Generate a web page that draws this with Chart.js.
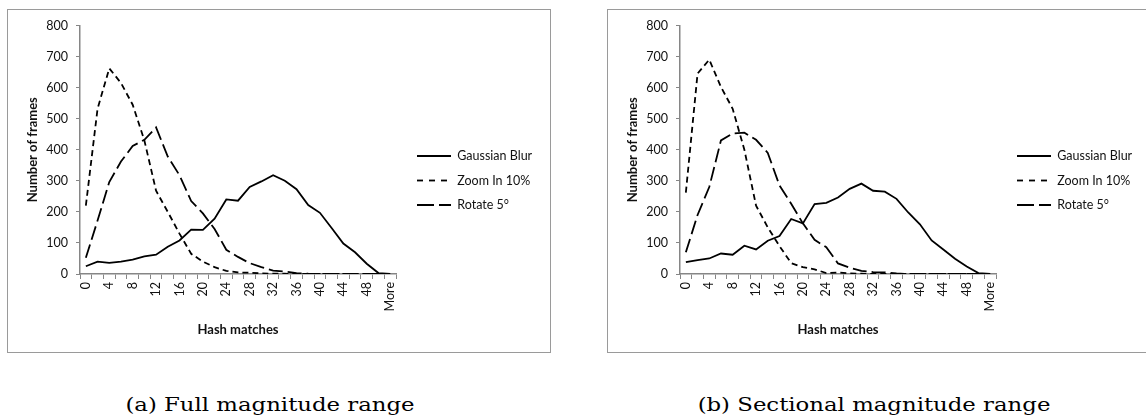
<!DOCTYPE html>
<html>
<head>
<meta charset="utf-8">
<script src="https://cdn.jsdelivr.net/npm/chart.js@4.4.1/dist/chart.umd.min.js"></script>
<style>
  html, body { margin: 0; padding: 0; background: #fff; overflow: hidden; }
  body { width: 1146px; height: 419px; position: relative; }
  .box { position: absolute; top: 9px; height: 342px; border: 1px solid #9a9a9a; background: #fff; }
  #boxA { left: 7px; width: 542px; }
  #boxB { left: 607px; width: 560px; }
  .box canvas { position: absolute; left: 0; top: 0; }
  .cap { position: absolute; top: 393px; font-family: "DejaVu Serif", "Liberation Serif", serif; font-size: 19px; color: #000; white-space: nowrap; transform: translateX(-50%) scaleX(1.2); }
</style>
</head>
<body>
<div class="box" id="boxA"><canvas id="chartA" width="542" height="342"></canvas></div>
<div class="box" id="boxB"><canvas id="chartB" width="542" height="342"></canvas></div>
<div class="cap" style="left:270px">(a) Full magnitude range</div>
<div class="cap" style="left:874px">(b) Sectional magnitude range</div>
<script>
const categories = ['0','2','4','6','8','10','12','14','16','18','20','22','24','26','28','30','32','34','36','38','40','42','44','46','48','50','More'];
const seriesNames = ['Gaussian Blur', 'Zoom In 10%', 'Rotate 5°'];

// (a) full magnitude range
const blurA   = [25, 40, 36, 40, 46, 57, 62, 88, 108, 143, 142, 178, 240, 236, 280, 298, 318, 300, 273, 222, 197, 148, 98, 70, 33, 3, 0];
const zoomA   = [220, 532, 662, 615, 545, 430, 268, 200, 130, 65, 40, 22, 10, 5, 4, 2, 1, 1, 0, 0, 0, 0, 0, 0, 0, 0, 0];
const rotateA = [52, 172, 296, 362, 412, 432, 472, 378, 318, 235, 195, 145, 78, 55, 35, 22, 11, 8, 3, 1, 0, 0, 0, 0, 0, 0, 0];

// (b) sectional magnitude range
const blurB   = [38, 45, 50, 66, 62, 91, 79, 107, 122, 177, 163, 225, 229, 246, 274, 291, 268, 265, 242, 198, 160, 108, 79, 49, 24, 3, 0];
const zoomB   = [262, 645, 690, 602, 532, 400, 220, 150, 90, 35, 22, 15, 3, 5, 2, 1, 0, 0, 0, 0, 0, 0, 0, 0, 0, 0, 0];
const rotateB = [70, 190, 280, 430, 452, 455, 432, 390, 285, 226, 163, 110, 86, 34, 20, 10, 6, 5, 2, 0, 0, 0, 0, 0, 0, 0, 0];

const dashes = [[], [6, 4], [14, 5]];
const legendDashes = [[], [6, 6], [17, 5]];
const axisColor = '#868686';
const textColor = '#111';
const fontFamily = 'Lato, "Open Sans", sans-serif';

// fixes legend width and nudges it so the keys sit where Excel put them
const legendNudge = {
    id: 'legendNudge',
    beforeLayout(chart, args, opts) {
        const lg = chart.legend;
        if (!lg || lg._nudged) return;
        const fit = lg.fit.bind(lg);
        lg.fit = function() { fit(); this.width = opts.width; };
        lg._nudged = true;
    },
    afterLayout(chart, args, opts) {
        const lg = chart.legend;
        lg.left += opts.dx; lg.right += opts.dx;
        lg.top += opts.dy; lg.bottom += opts.dy;
    }
};

function drawHistChart(canvasId, values) {
    let ctx = document.getElementById(canvasId);
    return new Chart(ctx, {
        type: 'line',
        data: {
            labels: categories,
            datasets: values.map((v, i) => ({
                label: seriesNames[i],
                data: v,
                borderColor: '#000',
                backgroundColor: '#000',
                borderWidth: 1.8,
                borderDash: dashes[i],
                pointRadius: 0,
                tension: 0,
                fill: false
            }))
        },
        options: {
            responsive: false,
            animation: false,
            layout: { padding: { left: 13, top: 15, right: 0, bottom: 10 } },
            plugins: {
                legend: {
                    position: 'right',
                    labels: {
                        usePointStyle: true,
                        pointStyle: 'line',
                        pointStyleWidth: 34,
                        padding: 12,
                        color: textColor,
                        font: { family: fontFamily, size: 12.5 },
                        generateLabels: function(chart) {
                            let items = Chart.defaults.plugins.legend.labels.generateLabels(chart);
                            items.forEach((it, i) => {
                                it.lineDash = legendDashes[i];
                                it.lineWidth = 1.8;
                                it.strokeStyle = '#000';
                            });
                            return items;
                        }
                    }
                },
                legendNudge: { width: 154, dx: 9, dy: -3 },
                tooltip: { enabled: false }
            },
            scales: {
                x: {
                    offset: true,
                    grid: { drawOnChartArea: false, drawTicks: true, tickLength: 5, color: axisColor, offset: true },
                    border: { color: axisColor, width: 1.5 },
                    ticks: {
                        autoSkip: false,
                        maxRotation: 90,
                        minRotation: 90,
                        padding: 3,
                        color: textColor,
                        font: { family: fontFamily, size: 12.5 },
                        callback: function(val, idx) { return idx % 2 === 0 ? categories[idx] : ''; }
                    },
                    title: { display: true, text: 'Hash matches', color: textColor, font: { family: fontFamily, size: 13, weight: 'bold' } },
                    afterFit: function(scale) { scale.height = 68; }
                },
                y: {
                    min: 0,
                    max: 800,
                    ticks: { stepSize: 100, padding: 8, color: textColor, font: { family: fontFamily, size: 12.5 } },
                    grid: { drawOnChartArea: false, drawTicks: true, tickLength: 4, color: axisColor },
                    border: { color: axisColor, width: 1.5 },
                    title: { display: true, text: 'Number of frames', color: textColor, font: { family: fontFamily, size: 13, weight: 'bold' } },
                    afterFit: function(scale) { scale.width = 59; }
                }
            }
        },
        plugins: [legendNudge]
    });
}

drawHistChart('chartA', [blurA, zoomA, rotateA]);
drawHistChart('chartB', [blurB, zoomB, rotateB]);
</script>
</body>
</html>
